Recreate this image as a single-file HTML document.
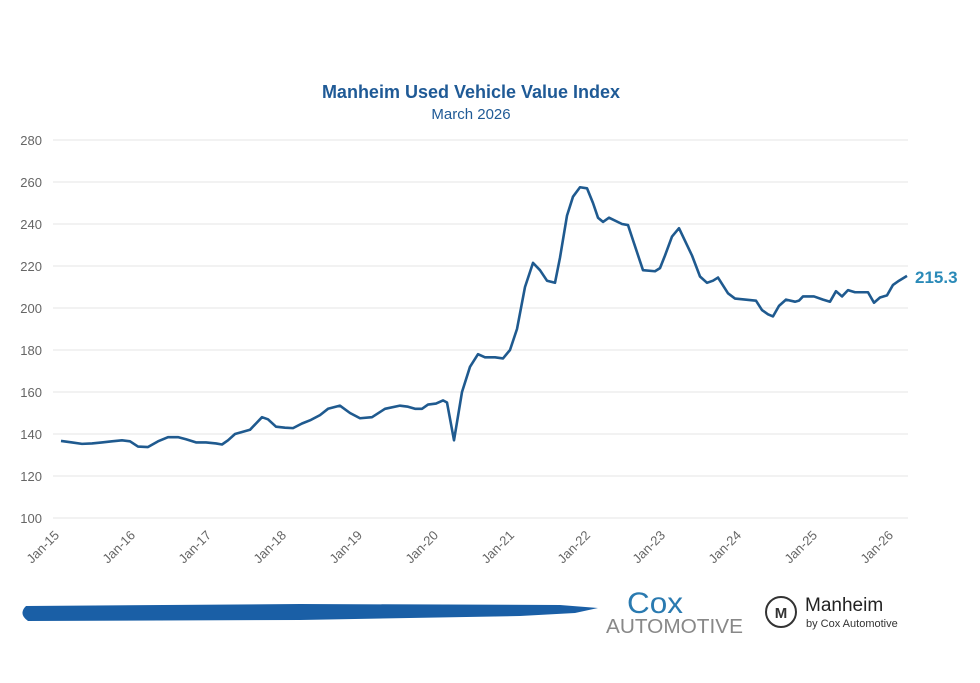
<!DOCTYPE html>
<html><head><meta charset="utf-8"><style>
body{margin:0;background:#fff;width:980px;height:683px;overflow:hidden}
svg{display:block;font-family:"Liberation Sans",sans-serif}
</style></head><body>
<svg width="980" height="683" viewBox="0 0 980 683">
<text x="471" y="98" text-anchor="middle" font-size="18" font-weight="bold" fill="#1f5a96">Manheim Used Vehicle Value Index</text>
<text x="471" y="119" text-anchor="middle" font-size="15" fill="#1f5a96">March 2026</text>
<g stroke="#e6e6e6" stroke-width="1">
<line x1="53" x2="908" y1="140" y2="140"/><line x1="53" x2="908" y1="182" y2="182"/><line x1="53" x2="908" y1="224" y2="224"/><line x1="53" x2="908" y1="266" y2="266"/><line x1="53" x2="908" y1="308" y2="308"/><line x1="53" x2="908" y1="350" y2="350"/><line x1="53" x2="908" y1="392" y2="392"/><line x1="53" x2="908" y1="434" y2="434"/><line x1="53" x2="908" y1="476" y2="476"/><line x1="53" x2="908" y1="518" y2="518"/>
</g>
<g font-size="13" fill="#666" text-anchor="end">
<text x="42" y="145">280</text><text x="42" y="187">260</text><text x="42" y="229">240</text><text x="42" y="271">220</text><text x="42" y="313">200</text><text x="42" y="355">180</text><text x="42" y="397">160</text><text x="42" y="439">140</text><text x="42" y="481">120</text><text x="42" y="523">100</text>
</g>
<g font-size="13" fill="#666" text-anchor="end">
<text transform="translate(60,536) rotate(-45)">Jan-15</text>
<text transform="translate(136,536) rotate(-45)">Jan-16</text>
<text transform="translate(212,536) rotate(-45)">Jan-17</text>
<text transform="translate(287,536) rotate(-45)">Jan-18</text>
<text transform="translate(363,536) rotate(-45)">Jan-19</text>
<text transform="translate(439,536) rotate(-45)">Jan-20</text>
<text transform="translate(515,536) rotate(-45)">Jan-21</text>
<text transform="translate(591,536) rotate(-45)">Jan-22</text>
<text transform="translate(666,536) rotate(-45)">Jan-23</text>
<text transform="translate(742,536) rotate(-45)">Jan-24</text>
<text transform="translate(818,536) rotate(-45)">Jan-25</text>
<text transform="translate(894,536) rotate(-45)">Jan-26</text>
</g>
<g transform="matrix(1 0 0 -2.1 0 728)">
<polyline vector-effect="non-scaling-stroke" fill="none" stroke="#1f5a8f" stroke-width="2.6" stroke-linejoin="round" points="61,136.7 72,136 82,135.3 92,135.5 102,136 112,136.5 122,137 130,136.5 138,134 148,133.8 158,136.5 168,138.5 178,138.5 186,137.5 196,136 206,136 216,135.5 222,135 228,137 235,140 250,142 256,145 262,148 268,147 276,143.5 285,143 293,142.8 302,145 310,146.5 320,149 328,152 340,153.5 350,150 360,147.5 372,148 385,152 400,153.5 408,153 415,152 422,152 428,154 436,154.5 443,156 447,155 454,137 462,160 470,172 478,178 485,176.5 495,176.5 503,176 510,180 517,190 525,210 533,221.5 540,218 547,213 555,212 560,224 567,244 573,253 580,257.5 587,257 593,250 598,243 603,241 609,243 622,240 628,239.5 636,228 643,218 655,217.5 660,219 665,225 672,234 679,238 685,232 692,225 700,215 707,212 713,213 718,214.5 728,207 735,204.5 745,204 756,203.5 762,199 768,197 773,196 779,201 786,204 795,203 799,203.5 803,205.5 814,205.5 823,204 830,203 836,208 842,205.5 848,208.5 855,207.5 868,207.5 874,202.5 880,205 887,206 893,211 899,213 907,215.3"/>
</g>
<text x="915" y="283" font-size="17" font-weight="bold" fill="#2a8ab8">215.3</text>
<path d="M26,606 Q18,614 28,621 L300,620 L520,616 L575,613 L598,608 L560,605 L300,604 Z" fill="#1a5fa6"/>
<text x="627" y="613" font-size="30" fill="#2a7ab0" textLength="56" lengthAdjust="spacingAndGlyphs">Cox</text>
<text x="606" y="633" font-size="20" fill="#888" textLength="137" lengthAdjust="spacingAndGlyphs">AUTOMOTIVE</text>
<circle cx="781" cy="612" r="15" fill="none" stroke="#333" stroke-width="2"/>
<text x="781" y="618" text-anchor="middle" font-size="15" font-weight="bold" fill="#333">M</text>
<text x="805" y="611" font-size="19" fill="#222">Manheim</text>
<text x="806" y="627" font-size="11" fill="#333">by Cox Automotive</text>
</svg>
</body></html>
